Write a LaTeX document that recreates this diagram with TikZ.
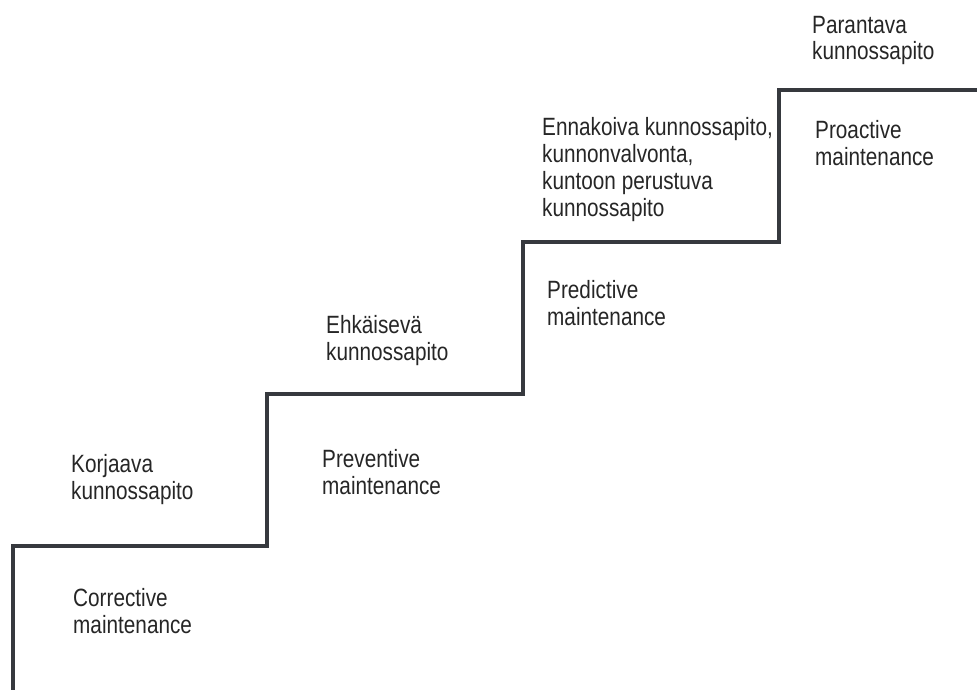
\documentclass[tikz,border=0pt]{standalone}
\usepackage{fontspec}
\setmainfont{Liberation Sans}[FakeStretch=0.83]
\definecolor{stairline}{HTML}{36393E}
\definecolor{labeltext}{HTML}{262626}

\begin{document}
\begin{tikzpicture}[x=1pt, y=-1pt,
	steplabel/.style={anchor=base west, align=left, inner sep=0pt, text=labeltext,
		font=\fontsize{25}{26.7}\selectfont}]
	\def\w{256};
	\def\h{152};
	
	\useasboundingbox (0,0) rectangle (977,690);
	
	\draw [line width = 4, stairline] (13,690) -- (13,546) -- ++(254,0) -- ++(0,-\h) -- ++(\w,0) -- ++(0,-\h) -- ++(\w,0) -- ++(0,-\h) -- (977,90);
	
	% anchors sit on the baseline of the last line
	\node [steplabel] (korjaava) at (71,499) {Korjaava\\kunnossapito};
	\node [steplabel] (corrective) at (73,633) {Corrective\\maintenance};
	\node [steplabel] (ehkaiseva) at (326,360) {Ehkäisevä\\kunnossapito};
	\node [steplabel] (preventive) at (322,494) {Preventive\\maintenance};
	\node [steplabel] (ennakoiva) at (542,216) {Ennakoiva kunnossapito,\\kunnonvalvonta,\\kuntoon perustuva\\kunnossapito};
	\node [steplabel] (predictive) at (547,325) {Predictive\\maintenance};
	\node [steplabel] (parantava) at (812,60) {Parantava\\kunnossapito};
	\node [steplabel] (proactive) at (815,165) {Proactive\\maintenance};
\end{tikzpicture}
\end{document}
